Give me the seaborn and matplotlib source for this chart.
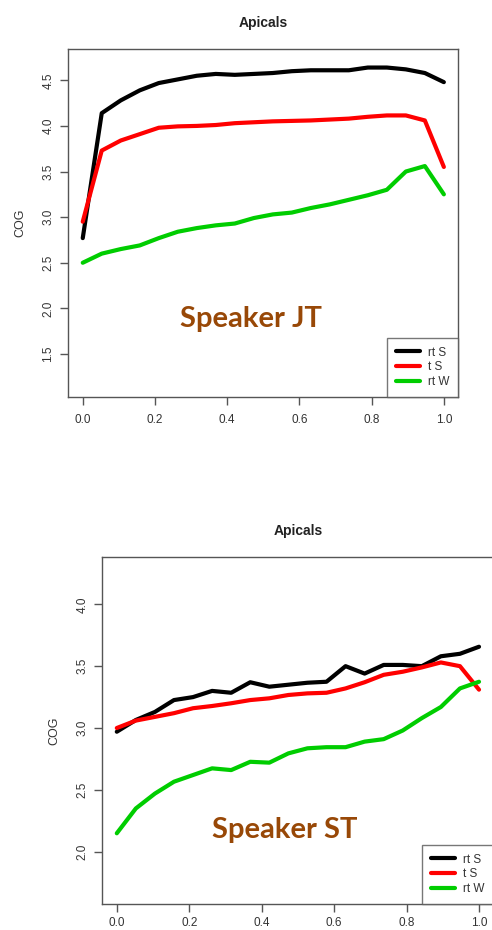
import numpy as np
import pandas as pd
import matplotlib
matplotlib.use("Agg")
import matplotlib.pyplot as plt
import seaborn as sns
from matplotlib.lines import Line2D

# ---------------- data ----------------
n_points = 20
x_vals = [i / 19 for i in range(n_points)]
series_names = ["rt S", "t S", "rt W"]
series_colors = ["#000000", "#FF0000", "#00CD00"]

# Speaker JT
jt_rtS = [2.77, 4.14, 4.28, 4.39, 4.47, 4.51, 4.55, 4.57, 4.56, 4.57,
          4.58, 4.60, 4.61, 4.61, 4.61, 4.64, 4.64, 4.62, 4.58, 4.48]
jt_tS = [2.95, 3.73, 3.84, 3.91, 3.98, 3.995, 4.00, 4.01, 4.03, 4.04,
         4.05, 4.055, 4.06, 4.07, 4.08, 4.10, 4.115, 4.115, 4.06, 3.55]
jt_rtW = [2.50, 2.60, 2.65, 2.69, 2.77, 2.84, 2.88, 2.91, 2.93, 2.99,
          3.03, 3.05, 3.10, 3.14, 3.19, 3.24, 3.30, 3.50, 3.56, 3.25]

# Speaker ST
st_rtS = [2.97, 3.065, 3.13, 3.226, 3.25, 3.30, 3.285, 3.37, 3.334, 3.35,
          3.366, 3.374, 3.50, 3.44, 3.51, 3.51, 3.50, 3.58, 3.60, 3.657]
st_tS = [3.00, 3.06, 3.09, 3.12, 3.16, 3.178, 3.20, 3.226, 3.24, 3.267,
         3.28, 3.285, 3.32, 3.37, 3.43, 3.455, 3.49, 3.53, 3.50, 3.31]
st_rtW = [2.149, 2.35, 2.47, 2.566, 2.62, 2.674, 2.66, 2.727, 2.72, 2.795,
          2.836, 2.845, 2.845, 2.89, 2.91, 2.98, 3.08, 3.17, 3.32, 3.374]

panel_title = "Apicals"
y_label = "COG"
speaker_labels = ["Speaker JT", "Speaker ST"]
x_ticks = [0.0, 0.2, 0.4, 0.6, 0.8, 1.0]
jt_yticks = [1.5, 2.0, 2.5, 3.0, 3.5, 4.0, 4.5]
st_yticks = [2.0, 2.5, 3.0, 3.5, 4.0]

# ---------------- style ----------------
sns.set_style("white")
plt.rcParams["font.family"] = ["Liberation Sans", "DejaVu Sans"]

W, H = 492, 930
fig = plt.figure(figsize=(W / 100, H / 100), dpi=100)


def make_df(a, b, c):
    frames = []
    for name, vals in zip(series_names, (a, b, c)):
        frames.append(pd.DataFrame({"x": x_vals, "y": vals, "series": name}))
    return pd.concat(frames, ignore_index=True)


def draw_panel(rect_px, df, ylim, yticks, speaker, speaker_xy_px, xpad):
    l, t, r, b = rect_px
    ax = fig.add_axes([l / W, 1 - b / H, (r - l) / W, (b - t) / H])
    sns.lineplot(data=df, x="x", y="y", hue="series", hue_order=series_names,
                 palette=series_colors, linewidth=3.0, sort=False,
                 estimator=None, ax=ax, legend=False)
    ax.set_xlim(-0.04, 1.04)
    ax.set_ylim(*ylim)
    ax.set_xticks(x_ticks)
    ax.set_xticklabels([f"{v:.1f}" for v in x_ticks])
    ax.set_yticks(yticks)
    ax.set_yticklabels([f"{v:.1f}" for v in yticks], rotation=90, va="center")
    ax.tick_params(axis="both", direction="out", length=6, width=1,
                   color="#555555", labelcolor="#333333", labelsize=8.5)
    ax.tick_params(axis="x", bottom=True, pad=xpad)
    ax.tick_params(axis="y", left=True, pad=4)
    for s in ax.spines.values():
        s.set_color("#555555")
        s.set_linewidth(1.0)
    ax.set_xlabel("")
    ax.set_ylabel(y_label, fontsize=9, color="#333333")
    ax.yaxis.set_label_coords(-0.108, 0.5)
    ax.set_title(panel_title, fontsize=10, fontweight="bold", color="#222222", pad=16)
    handles = [Line2D([0], [0], color=c, lw=3.0) for c in series_colors]
    leg = ax.legend(handles, series_names, loc="lower right", borderaxespad=0,
                    fontsize=8.5, frameon=True, fancybox=False, handlelength=2.0,
                    handletextpad=0.7, labelspacing=0.25, borderpad=0.75)
    leg.get_frame().set_edgecolor("#555555")
    leg.get_frame().set_linewidth(1.0)
    for txt in leg.get_texts():
        txt.set_color("#333333")
    fig.text(speaker_xy_px[0] / W, 1 - speaker_xy_px[1] / H, speaker,
             fontsize=21, fontweight="bold", color="#984807",
             family=["Lato", "DejaVu Sans"], ha="center", va="center")
    return ax


draw_panel((68.3, 49.3, 458.3, 397.3), make_df(jt_rtS, jt_tS, jt_rtW),
           (1.025, 4.84), jt_yticks, speaker_labels[0], (251, 319), 6)
draw_panel((102.3, 557.3, 493.5, 904.3), make_df(st_rtS, st_tS, st_rtW),
           (1.575, 4.38), st_yticks, speaker_labels[1], (285, 830), 3)

fig.savefig("out.png", dpi=100)
